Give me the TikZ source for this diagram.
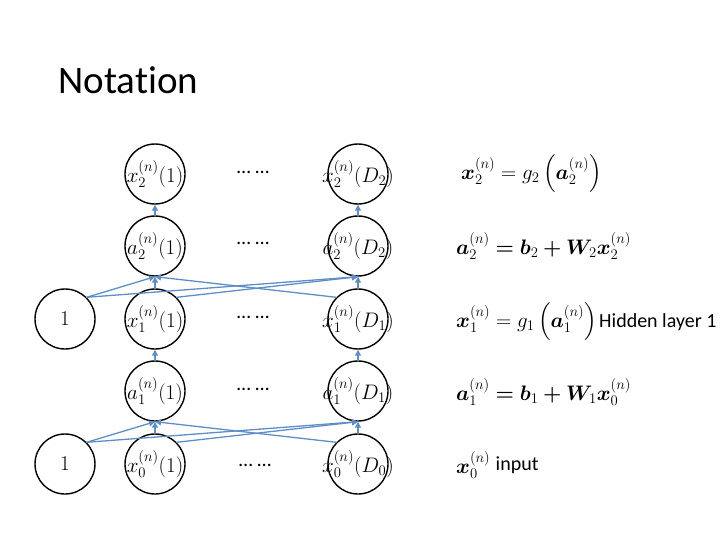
\RequirePackage{fix-cm}
\documentclass[tikz,border=0pt]{standalone}
\usepackage{amsmath,amssymb}
\usepackage{bm}
\usepackage{fontspec}
\setmainfont{Carlito}[Ligatures=NoCommon]
\usepackage{tikz}
\usetikzlibrary{arrows.meta}

\definecolor{linkblue}{RGB}{94,142,200}
\newcommand{\cellm}[1]{\makebox[0pt]{\fontsize{21}{24}\selectfont$#1$}}

\begin{document}
\begin{tikzpicture}[x=1pt, y=-1pt, line cap=round, line join=round,
	neuron/.style={circle, draw, line width=1.4pt, minimum size=60pt, inner sep=0pt},
	conn/.style={draw=linkblue, line width=1.3pt, -{Triangle[width=6pt,length=6pt]}},
	gap/.style={font=\fontsize{20}{22}\selectfont},
	eqn/.style={anchor=west, inner sep=1pt, font=\fontsize{21}{24}\selectfont},
	side/.style={anchor=west, inner sep=1pt, font=\fontsize{20}{23}\selectfont}]
	\useasboundingbox (0,0) rectangle (720,540);
	\node[anchor=west, font=\fontsize{39}{44}\selectfont] (title) at (55,80) {Notation};
	% units
	\node[neuron] (one1) at (65,319) {\cellm{1}};
	\node[neuron] (one0) at (65,464) {\cellm{1}};
	\node[neuron] (x21) at (155,174) {\cellm{x_2^{(n)}(1)}};
	\node[neuron] (x2D) at (358,174) {\cellm{x_2^{(n)}(D_2)}};
	\node[neuron] (a21) at (155,246) {\cellm{a_2^{(n)}(1)}};
	\node[neuron] (a2D) at (358,246) {\cellm{a_2^{(n)}(D_2)}};
	\node[neuron] (x11) at (155,319) {\cellm{x_1^{(n)}(1)}};
	\node[neuron] (x1D) at (358,319) {\cellm{x_1^{(n)}(D_1)}};
	\node[neuron] (a11) at (155,391) {\cellm{a_1^{(n)}(1)}};
	\node[neuron] (a1D) at (358,391) {\cellm{a_1^{(n)}(D_1)}};
	\node[neuron] (x01) at (155,464) {\cellm{x_0^{(n)}(1)}};
	\node[neuron] (x0D) at (358,464) {\cellm{x_0^{(n)}(D_0)}};
	\node[gap] (g5) at (253,172) {\ldots\ \ldots};
	\node[gap] (g4) at (253,243) {\ldots\ \ldots};
	\node[gap] (g3) at (253,317) {\ldots\ \ldots};
	\node[gap] (g2) at (253,389) {\ldots\ \ldots};
	\node[gap] (g1) at (255,465) {\ldots\ \ldots};
	% links
	\draw[conn] (x01) -- (a11);
	\draw[conn] (x0D) -- (a1D);
	\draw[conn] (one0.north east) -- (a11.south);
	\draw[conn] (one0.north east) -- (a1D.south);
	\draw[conn] (x01.north east) -- (a1D.south);
	\draw[conn] (x0D.north west) -- (a11.south);
	\draw[conn] (a11) -- (x11);
	\draw[conn] (a1D) -- (x1D);
	\draw[conn] (x11) -- (a21);
	\draw[conn] (x1D) -- (a2D);
	\draw[conn] (one1.north east) -- (a21.south);
	\draw[conn] (one1.north east) -- (a2D.south);
	\draw[conn] (x11.north east) -- (a2D.south);
	\draw[conn] (x1D.north west) -- (a21.south);
	\draw[conn] (a21) -- (x21);
	\draw[conn] (a2D) -- (x2D);
	% equations
	\node[eqn] (e5) at (460,174) {$\bm{x}_2^{(n)}=g_2\left(\bm{a}_2^{(n)}\right)$};
	\node[eqn] (e4) at (455,246) {$\bm{a}_2^{(n)}\bm{=}\bm{b}_2\bm{+}\bm{W}_2\bm{x}_2^{(n)}$};
	\node[eqn] (e3) at (455,322) {$\bm{x}_1^{(n)}=g_1\left(\bm{a}_1^{(n)}\right)$};
	\node[side] (hid) at (e3.east) {Hidden layer 1};
	\node[eqn] (e2) at (455,392) {$\bm{a}_1^{(n)}\bm{=}\bm{b}_1\bm{+}\bm{W}_1\bm{x}_0^{(n)}$};
	\node[eqn] (e1) at (455,465) {$\bm{x}_0^{(n)}$};
	\node[side] (inp) at ([xshift=3pt]e1.east) {input};
\end{tikzpicture}
\end{document}
